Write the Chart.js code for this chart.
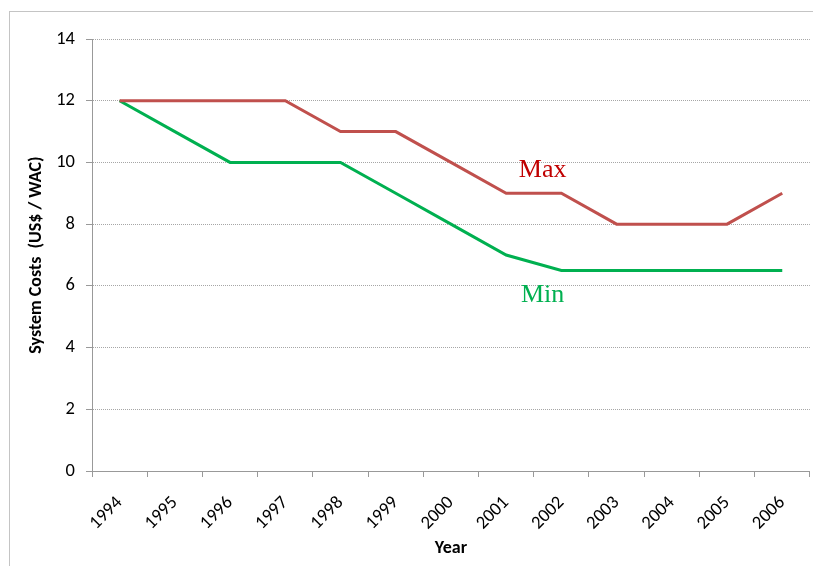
<!DOCTYPE html>
<html>
<head>
<meta charset="utf-8">
<script src="https://cdn.jsdelivr.net/npm/chart.js@4"></script>
<style>
  html, body { margin: 0; padding: 0; background: #fff; }
</style>
</head>
<body>
<canvas id="line-chart" width="813" height="566"></canvas>
<script>
// Years on the x axis
const years = ["1994", "1995", "1996", "1997", "1998", "1999", "2000",
               "2001", "2002", "2003", "2004", "2005", "2006"];
// System costs, US$ per WAC
const maxCosts = [12, 12, 12, 12, 11, 11, 10, 9, 9, 8, 8, 8, 9];
const minCosts = [12, 11, 10, 10, 10, 9, 8, 7, 6.5, 6.5, 6.5, 6.5, 6.5];
// where the series names sit (x as category index, y in axis units)
const maxNote = { text: "Max", x: 7.66, y: 9.74 };
const minNote = { text: "Min", x: 7.66, y: 5.7 };

const tickFont = { family: "Carlito, Lato, 'Open Sans', sans-serif", size: 18.5 };
const titleFont = { family: "Carlito, Lato, 'Open Sans', sans-serif", size: 18, weight: "bold" };

// frame round the chart and the two series names
const decorations = {
  id: "decorations",
  beforeDraw(chart) {
    const ctx = chart.ctx;
    ctx.save();
    ctx.strokeStyle = "#c4c4c4";
    ctx.lineWidth = 1;
    ctx.strokeRect(9.5, 11.5, 900, 700);
    ctx.restore();
  },
  afterDatasetsDraw(chart) {
    const ctx = chart.ctx;
    const x = chart.scales.x, y = chart.scales.y;
    ctx.save();
    ctx.font = "26px 'Liberation Serif', 'DejaVu Serif', serif";
    ctx.textAlign = "center";
    ctx.textBaseline = "middle";
    ctx.fillStyle = "#c00000";
    ctx.fillText(maxNote.text, x.getPixelForValue(maxNote.x), y.getPixelForValue(maxNote.y));
    ctx.fillStyle = "#00b050";
    ctx.fillText(minNote.text, x.getPixelForValue(minNote.x), y.getPixelForValue(minNote.y));
    ctx.restore();
  }
};

new Chart(document.getElementById("line-chart"), {
  type: "line",
  data: {
    labels: years,
    datasets: [
      {
        label: "Max",
        data: maxCosts,
        borderColor: "#c0504d",
        borderWidth: 3,
        pointRadius: 0,
        tension: 0,
        fill: false
      },
      {
        label: "Min",
        data: minCosts,
        borderColor: "#00b050",
        borderWidth: 3,
        pointRadius: 0,
        tension: 0,
        fill: false
      }
    ]
  },
  options: {
    responsive: false,
    animation: false,
    layout: { padding: { left: 22, right: 1, top: 39, bottom: 3 } },
    plugins: {
      legend: { display: false },
      tooltip: { enabled: false }
    },
    scales: {
      x: {
        offset: true,
        grid: {
          offset: true,
          drawOnChartArea: false,
          color: "#999",
          tickLength: 6
        },
        border: { color: "#999" },
        ticks: {
          color: "#000",
          font: tickFont,
          maxRotation: 45,
          minRotation: 45,
          padding: 15
        },
        title: {
          display: true,
          text: "Year",
          color: "#000",
          font: titleFont,
          padding: { top: 4, bottom: 4 }
        },
        afterFit(scale) { scale.height = 92; }
      },
      y: {
        min: 0,
        max: 14,
        ticks: {
          stepSize: 2,
          color: "#000",
          font: tickFont,
          padding: 11
        },
        grid: {
          color: "#a6a6a6",
          tickColor: "#999",
          tickLength: 6,
          tickBorderDash: []
        },
        border: { color: "#999", dash: [1, 1] },
        title: {
          display: true,
          text: "System Costs  (US$ / WAC)",
          color: "#000",
          font: titleFont,
          padding: { top: 4, bottom: 4 }
        },
        afterFit(scale) { scale.width = 70; }
      }
    }
  },
  plugins: [decorations]
});
</script>
</body>
</html>
